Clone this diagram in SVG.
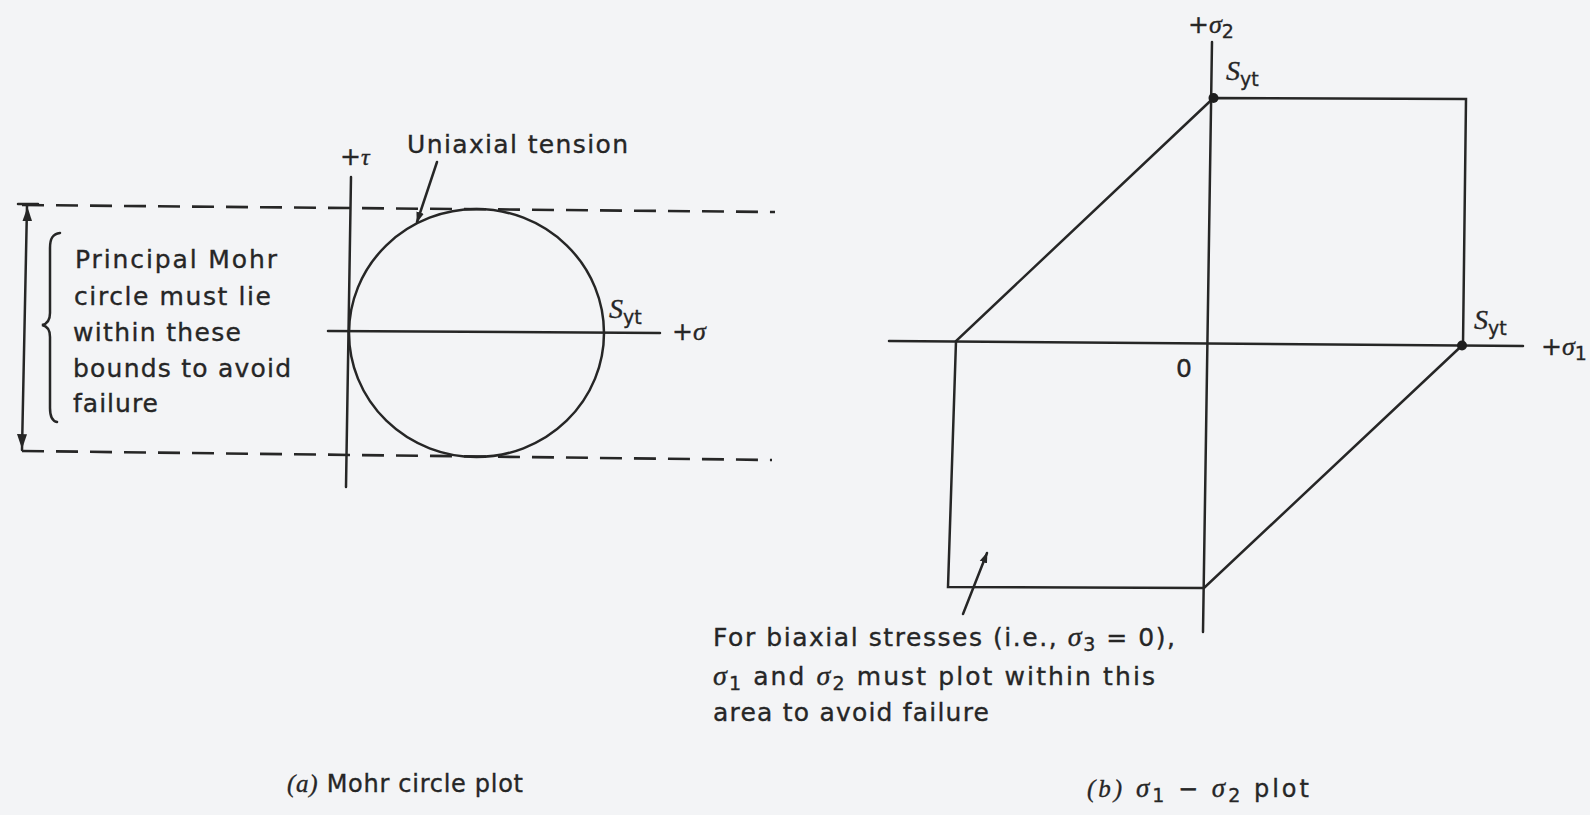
<svg xmlns="http://www.w3.org/2000/svg" width="1590" height="815" viewBox="0 0 1590 815">
<style>
.ln{stroke:#262626;stroke-width:2.5;fill:none;stroke-linecap:round}
.dash{stroke:#262626;stroke-width:2.6;fill:none;stroke-dasharray:22 12}
.t{font-family:"DejaVu Sans","Liberation Sans",sans-serif;fill:#262626;stroke:#262626;stroke-width:0.35;font-size:25px}
.cap{font-family:"DejaVu Sans","Liberation Sans",sans-serif;fill:#262626;stroke:#262626;stroke-width:0.35;font-size:24px}
.g{font-family:"Liberation Serif","DejaVu Serif",serif;font-style:italic}
.sub{font-size:19px}
.dot{fill:#1e1e1e}
</style>
<defs>
<marker id="ah" viewBox="0 0 10 10" refX="9" refY="5" markerWidth="11" markerHeight="11" markerUnits="userSpaceOnUse" orient="auto">
<path d="M0,1.5 L10,5 L0,8.5 Z" fill="#262626"/>
</marker>
</defs>
<rect width="1590" height="815" fill="#f3f4f6"/>

<g id="panel-a">
  <g id="bounds">
    <line class="dash" x1="22" y1="205" x2="775" y2="212"/>
    <line class="dash" x1="22" y1="451" x2="772" y2="460"/>
  </g>
  <g id="tau-axis">
    <line class="ln" x1="351" y1="177" x2="346" y2="487"/>
    <text class="t" x="340" y="165" font-size="22">+<tspan class="g" font-size="24">τ</tspan></text>
  </g>
  <g id="sigma-axis">
    <line class="ln" x1="328" y1="331" x2="660" y2="333"/>
    <text class="t" x="672" y="340" font-size="22">+<tspan class="g" font-size="26">σ</tspan></text>
  </g>
  <g id="mohr-circle">
    <ellipse class="ln" cx="476.5" cy="333" rx="127.5" ry="124"/>
    <text class="t" x="609" y="318"><tspan class="g" font-size="28">S</tspan><tspan class="sub" dy="6">yt</tspan></text>
  </g>
  <g id="uniaxial-label">
    <text class="t" x="407" y="153" textLength="221">Uniaxial tension</text>
  </g>
  <g id="bounds-note">
    <text class="t" x="75" y="268" textLength="202">Principal Mohr</text>
    <text class="t" x="74" y="305" textLength="197">circle must lie</text>
    <text class="t" x="73" y="341" textLength="168">within these</text>
    <text class="t" x="73" y="377" textLength="218">bounds to avoid</text>
    <text class="t" x="73" y="412" textLength="85">failure</text>
    <path class="ln" d="M60,233 C53,234 50,238 50,248 L50,313 C50,320 47,324 42,325 C47,326 50,330 50,337 L50,408 C50,417 52,421 57,422" stroke-width="2"/>
  </g>
  <g id="caption-a">
    <text class="cap" x="287" y="792" textLength="236"><tspan class="g" font-size="25">(a)</tspan> Mohr circle plot</text>
  </g>
</g>

<g id="panel-b">
  <g id="sigma2-axis">
    <line class="ln" x1="1212" y1="42" x2="1203" y2="632"/>
    <text class="t" x="1188" y="33" font-size="22">+<tspan class="g" font-size="26">σ</tspan><tspan class="sub" dy="5">2</tspan></text>
  </g>
  <g id="sigma1-axis">
    <line class="ln" x1="889" y1="341" x2="1523" y2="346"/>
    <text class="t" x="1541" y="355" font-size="22">+<tspan class="g" font-size="26">σ</tspan><tspan class="sub" dy="5">1</tspan></text>
    <text class="t" x="1176" y="377" font-size="24">0</text>
  </g>
  <g id="failure-envelope">
    <path class="ln" d="M1213.5,98 L1466,99 L1463,345 M1462,345.5 L1204,588 L948,587 L956,341 L1213.5,98"/>
  </g>
  <g id="syt-top">
    <circle class="dot" cx="1213.5" cy="98" r="5"/>
    <text class="t" x="1226" y="80"><tspan class="g" font-size="28">S</tspan><tspan class="sub" dy="6">yt</tspan></text>
  </g>
  <g id="syt-right">
    <circle class="dot" cx="1462" cy="345.5" r="5"/>
    <text class="t" x="1474" y="329"><tspan class="g" font-size="28">S</tspan><tspan class="sub" dy="6">yt</tspan></text>
  </g>
  <g id="area-note">
    <text class="t" x="713" y="646" font-size="26" textLength="462">For biaxial stresses (i.e., <tspan class="g" font-size="28">σ</tspan><tspan class="sub" dy="5">3</tspan><tspan dy="-5"> = 0),</tspan></text>
    <text class="t" x="713" y="685" font-size="26" textLength="442"><tspan class="g" font-size="28">σ</tspan><tspan class="sub" dy="5">1</tspan><tspan dy="-5"> and </tspan><tspan class="g" font-size="28">σ</tspan><tspan class="sub" dy="5">2</tspan><tspan dy="-5"> must plot within this</tspan></text>
    <text class="t" x="713" y="721" font-size="26" textLength="276">area to avoid failure</text>
  </g>
  <g id="caption-b">
    <text class="cap" x="1087" y="797" textLength="222"><tspan class="g" font-size="25">(b)</tspan> <tspan class="g" font-size="27">σ</tspan><tspan class="sub" dy="5">1</tspan><tspan dy="-5"> − </tspan><tspan class="g" font-size="27">σ</tspan><tspan class="sub" dy="5">2</tspan><tspan dy="-5"> plot</tspan></text>
  </g>
</g>

<g id="connectors">
  <line class="ln" x1="437" y1="162" x2="417" y2="222" marker-end="url(#ah)" stroke-width="2"/>
  <line class="ln" x1="963" y1="614" x2="987" y2="553" marker-end="url(#ah)" stroke-width="2"/>
  <line class="ln" x1="18" y1="204" x2="38" y2="204" stroke-width="2.2"/>
  <line class="ln" x1="27" y1="206" x2="22" y2="450" stroke-width="2"/>
  <path d="M27.5,207 L22.5,221 L32,221 Z" fill="#262626"/>
  <path d="M22,449 L17,434 L27,434.3 Z" fill="#262626"/>
</g>
</svg>
